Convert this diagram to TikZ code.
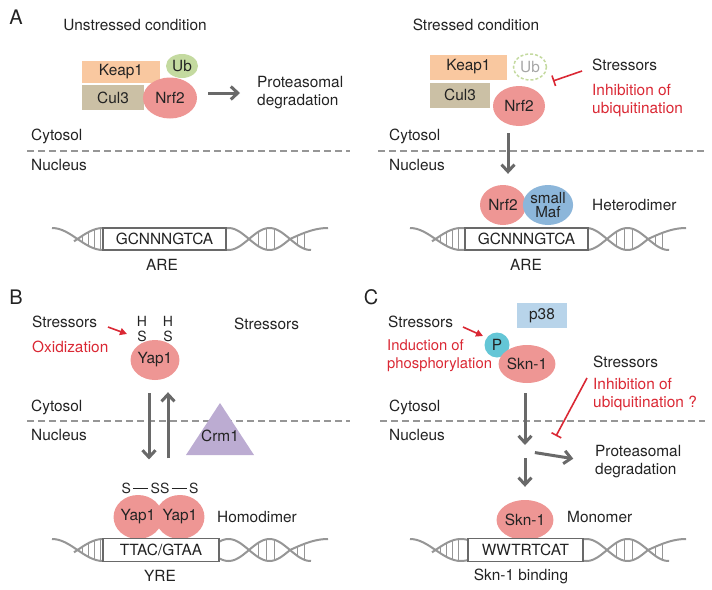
\documentclass[tikz,border=0pt]{standalone}
\usepackage{fontspec}
\setmainfont{TeX Gyre Heros}
\usetikzlibrary{shapes.geometric,arrows.meta}
\definecolor{keap}{RGB}{249,200,160}
\definecolor{cul}{RGB}{203,192,165}
\definecolor{ubg}{RGB}{196,218,160}
\definecolor{nrf}{RGB}{238,150,148}
\definecolor{maf}{RGB}{140,182,218}
\definecolor{crm}{RGB}{188,172,210}
\definecolor{pbox}{RGB}{184,212,234}
\definecolor{phos}{RGB}{100,198,214}
\definecolor{stressred}{RGB}{218,40,52}
\definecolor{arrowgray}{RGB}{105,105,105}
\definecolor{linegray}{RGB}{150,150,150}
\definecolor{txt}{RGB}{35,35,35}
\newcommand{\helix}[2]{%
  \begin{scope}[shift={(#1,#2)}]
    % left turn
    \draw[strand] plot[domain=0:60,samples=30,smooth] (\x,{-11*cos(180*\x/51)});
    \draw[strand] plot[domain=22:60,samples=20,smooth] (\x,{11*cos(180*\x/51)});
    \foreach \r in {30,36,42,48}
      \draw[rung] (\r,{-11*cos(180*\r/51)}) -- (\r,{11*cos(180*\r/51)});
    % right turns
    \draw[strand] plot[domain=160:238,samples=40,smooth] (\x,{-11*cos(180*(\x-176.5)/41)})
      -- plot[domain=238:276,samples=20,smooth] (\x,{-11*sin(90*(\x-238)/38)});
    \draw[strand] plot[domain=160:259,samples=50,smooth] (\x,{11*cos(180*(\x-176.5)/41)});
    \foreach \r in {206,214,222}
      \draw[rung] (\r,{-11*cos(180*(\r-176.5)/41)}) -- (\r,{11*cos(180*(\r-176.5)/41)});
    \foreach \r in {245,252}
      \draw[rung] (\r,{-11*sin(90*(\r-238)/38)}) -- (\r,{11*cos(180*(\r-176.5)/41)});
  \end{scope}}
\begin{document}
\begin{tikzpicture}[x=1pt,y=-1pt,
  every node/.style={font=\fontsize{15.4}{18}\selectfont,text=txt,inner sep=1pt},
  letter/.style={font=\fontsize{20}{22}\selectfont},
  small/.style={font=\fontsize{14}{15}\selectfont,inner sep=0pt},
  lbl/.style={anchor=west},
  redlbl/.style={text=stressred},
  boxp/.style={rectangle,inner sep=0pt},
  prot/.style={ellipse,fill=nrf,inner sep=0pt},
  seqbox/.style={draw=arrowgray,line width=1.2pt,fill=white,inner sep=0pt,minimum height=22pt},
  garrow/.style={line width=3pt,draw=arrowgray,-{Straight Barb[length=7pt,width=13pt]}},
  inhib/.style={line width=1.6pt,draw=stressred,-{Bar[width=11pt]}},
  rarrow/.style={line width=1.6pt,draw=stressred,-{Triangle[length=7pt,width=7pt]}},
  membrane/.style={line width=1.5pt,draw=linegray,dash pattern=on 7pt off 4pt},
  strand/.style={line width=2pt,draw=linegray},
  rung/.style={line width=0.6pt,draw=linegray}]
\useasboundingbox (0,0) rectangle (712,589);

% A, unstressed
\node[letter] (lblA) at (16,17) {A};
\node (headUn) at (135,25) {Unstressed condition};
\coordinate (memU1) at (27,151);
\coordinate (memU2) at (350,151);
\draw[membrane] (memU1) -- (memU2);
\node[lbl] (cytU) at (30,136) {Cytosol};
\node[lbl] (nucU) at (30,165) {Nucleus};
\node[boxp,fill=keap,minimum width=78pt,minimum height=22pt] (keapU) at (121,72) {Keap1};
\node[boxp,fill=cul,minimum width=62pt,minimum height=25pt] (culU) at (113,97.5) {Cul3};
\node[prot,fill=ubg,minimum width=32pt,minimum height=24pt] (ubU) at (182,66) {Ub};
\node[prot,minimum width=54pt,minimum height=41pt] (nrfU) at (170,98) {Nrf2};
\node[lbl,align=left] (degU) at (256,93) {Proteasomal\\degradation};
\draw[garrow,shorten <=11pt,shorten >=16pt] (nrfU.east |- degU.west) -- (degU.west);
\helix{52}{239}
\node[seqbox,minimum width=123pt] (areU) at (164.5,239) {GCNNNGTCA};
\node (areUl) at (162,265) {ARE};

% A, stressed
\node (headSt) at (476,25) {Stressed condition};
\coordinate (memS1) at (378,151);
\coordinate (memS2) at (705,151);
\draw[membrane] (memS1) -- (memS2);
\node[lbl] (cytS) at (388,136) {Cytosol};
\node[lbl] (nucS) at (388,165) {Nucleus};
\node[boxp,fill=keap,minimum width=77pt,minimum height=25pt] (keapS) at (468.5,67) {Keap1};
\node[boxp,fill=cul,minimum width=60pt,minimum height=25pt] (culS) at (460,95) {Cul3};
\node[prot,fill=none,draw=ubg,line width=1.5pt,dash pattern=on 3pt off 2pt,text=black!35,minimum width=33pt,minimum height=26pt] (ubS) at (530,67) {Ub};
\node[prot,minimum width=52pt,minimum height=40pt] (nrfS) at (519,106) {Nrf2};
\node[lbl] (strS) at (591,65) {Stressors};
\node[lbl,redlbl,align=left] (inhS) at (591,101) {Inhibition of\\ubiquitination};
\coordinate (tS1) at (582,71);
\coordinate (tS2) at (553,81);
\draw[inhib] (tS1) -- (tS2);
\node[prot,minimum width=46pt,minimum height=40pt] (nrfH) at (503,205) {Nrf2};
\node[prot,fill=maf,minimum width=50pt,minimum height=40pt,align=center,font=\fontsize{15.2}{14}\selectfont] (mafH) at (548,205) {small\\Maf};
\draw[garrow,shorten <=7pt,shorten >=11pt] ([xshift=-11pt]nrfS.south) -- ([xshift=-11pt]nrfS.south |- nrfH.north);
\node[lbl] (hetH) at (591,205) {Heterodimer};
\helix{410}{239}
\node[seqbox,minimum width=123pt] (areS) at (526.5,239) {GCNNNGTCA};
\node (areSl) at (526,265) {ARE};

% B
\node[letter] (lblB) at (16,297) {B};
\coordinate (memB1) at (27,421);
\coordinate (memB2) at (350,421);
\draw[membrane] (memB1) -- (memB2);
\node[lbl] (cytB) at (30,407) {Cytosol};
\node[lbl] (nucB) at (30,435) {Nucleus};
\node[lbl] (strB) at (31,322) {Stressors};
\node[lbl,redlbl] (oxB) at (31,347) {Oxidization};
\node[small] (hB1) at (142,321) {H};
\node[small] (hB2) at (168,321) {H};
\node[small] (sB1) at (142,336) {S};
\node[small] (sB2) at (168,336) {S};
\node[prot,minimum size=40pt] (yapB) at (155,360) {Yap1};
\coordinate (oxB1) at (108,327);
\coordinate (oxB2) at (127,334);
\draw[rarrow] (oxB1) -- (oxB2);
\node[lbl] (strB2) at (233,324) {Stressors};
\fill[crm] (220,403) -- (254,455) -- (186,455) -- cycle;
\node (crmB) at (220,436) {Crm1};
\node[small] (ssB) at (160,488) {S\,\rule[0.3em]{15pt}{1.3pt}\,SS\,\rule[0.3em]{15pt}{1.3pt}\,S};
\node[prot,minimum size=44pt] (yapL) at (138,517) {Yap1};
\node[prot,minimum size=44pt] (yapR) at (180,517) {Yap1};
\draw[garrow,shorten <=13pt,shorten >=23pt] ([xshift=-6pt]yapB.south) -- ([xshift=-6pt]yapB.south |- ssB.north);
\draw[garrow,shorten <=24pt,shorten >=12pt] ([xshift=13pt]yapB.south |- ssB.north) -- ([xshift=13pt]yapB.south);
\node[lbl] (homB) at (216,517) {Homodimer};
\helix{52}{550}
\node[seqbox,minimum width=116pt,minimum height=23pt] (yreB) at (161,550) {TTAC/GTAA};
\node (yreBl) at (160,576) {YRE};

% C
\node[letter] (lblC) at (371,297) {C};
\coordinate (memC1) at (380,421);
\coordinate (memC2) at (705,421);
\draw[membrane] (memC1) -- (memC2);
\node[lbl] (cytC) at (388,407) {Cytosol};
\node[lbl] (nucC) at (388,435) {Nucleus};
\node[boxp,fill=pbox,minimum width=50pt,minimum height=25pt] (p38C) at (542,315.5) {p38};
\node[lbl] (strC) at (387,322) {Stressors};
\node[lbl,redlbl,align=left,font=\fontsize{14.8}{18}\selectfont] (indC) at (386,356) {Induction of\\phosphorylation};
\coordinate (phC1) at (463,327);
\coordinate (phC2) at (483,336);
\draw[rarrow] (phC1) -- (phC2);
\node[prot,fill=phos,minimum size=25pt] (pC) at (497,345) {P};
\node[prot,minimum width=50pt,minimum height=38pt] (sknC) at (527,364) {Skn-1};
\node[lbl] (strC2) at (592,362) {Stressors};
\node[lbl,redlbl,align=left] (inhC) at (592,395) {Inhibition of\\ubiquitination ?};
\coordinate (tC1) at (587,378);
\coordinate (tC2) at (556,436);
\draw[inhib] (tC1) -- (tC2);
\coordinate (jC) at (525,451);
\node[prot,minimum width=52pt,minimum height=40pt] (sknM) at (525,520) {Skn-1};
\node[lbl,align=left] (degC) at (594,462) {Proteasomal\\degradation};
\draw[garrow,shorten <=10pt,shorten >=6pt] (sknC.south -| jC) -- (jC);
\draw[garrow,shorten <=7pt,shorten >=13pt] (jC) -- (sknM.north);
\draw[garrow,shorten <=10pt,shorten >=21pt] (jC) -- (degC.west);
\node[lbl] (monC) at (566,517) {Monomer};
\helix{410}{550}
\node[seqbox,minimum width=115pt,minimum height=23pt] (wwC) at (525.5,550) {WWTRTCAT};
\node (bindC) at (521,576) {Skn-1 binding};
\end{tikzpicture}
\end{document}
